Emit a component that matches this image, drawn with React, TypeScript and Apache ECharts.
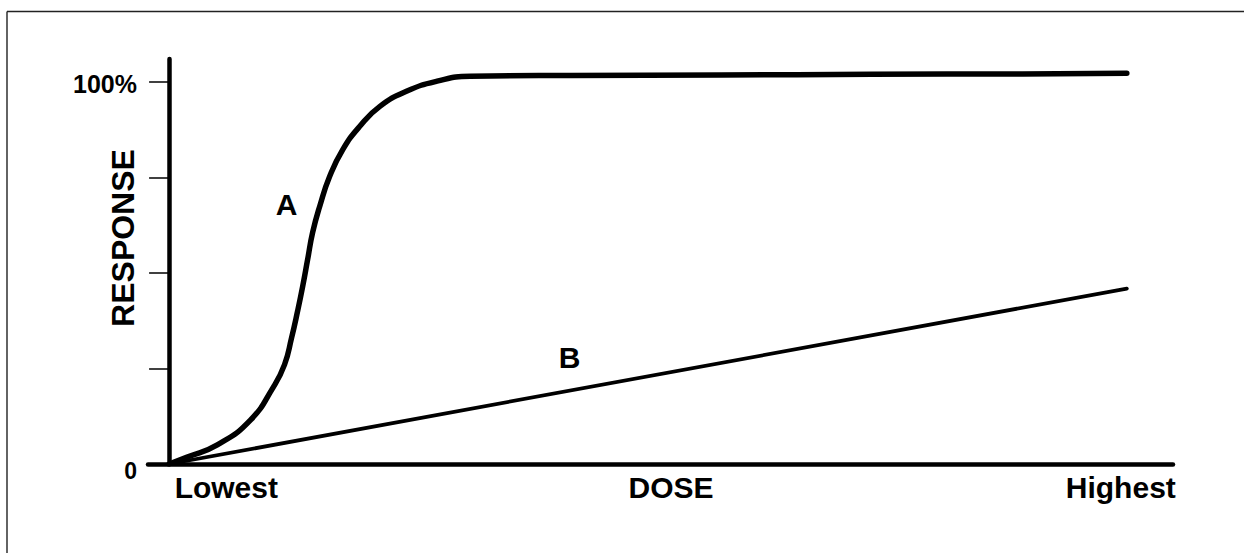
import React, { useEffect, useRef } from "react";
import * as echarts from "echarts";

// Curve A (steep sigmoid) : [dose, response %]
const curveA: [number, number][] = [
  [0, 0], [1.8, 1.8], [4.8, 5.0], [8.1, 11.5], [10.4, 20.2], [11.5, 26.0],
  [12.2, 33.0], [12.8, 40.0], [13.3, 46.4], [13.8, 53.5], [14.3, 60.6],
  [15.0, 67.4], [16.0, 75.3], [17.3, 82.3], [19.0, 88.4], [21.0, 93.6],
  [23.7, 97.6], [26.7, 100.2], [30.0, 101.5], [40, 101.7], [55, 101.8],
  [70, 102.0], [85, 102.1], [95.4, 102.3],
];
// Line B (shallow linear)
const curveB: [number, number][] = [
  [0, 0], [95.4, 45.9],
];
const curveNames = ["A", "B"];
const curveLabelPos: [number, number][] = [[11.7, 67.9], [39.9, 27.8]];

const xLabelValues = [5.7, 50, 94.8];
const xLabels = ["Lowest", "DOSE", "Highest"];
const yTickValues = [0, 25, 50, 75, 100];
const yLabelValues = [0, 100];
const yLabels = ["0", "100%"];

const FONT = "'Liberation Sans', Arial, Helvetica, sans-serif";

export default function App() {
  const ref = useRef<HTMLDivElement>(null);
  useEffect(() => {
    if (!ref.current) return;
    const chart = echarts.init(ref.current, undefined, { renderer: "svg" });
    chart.setOption({
      animation: false,
      backgroundColor: "#ffffff",
      grid: { left: 148, top: 59, width: 1025, height: 405, containLabel: false },
      xAxis: {
        type: "value",
        min: -2.1,
        max: 100,
        axisLine: { show: true, onZero: true, lineStyle: { color: "#000", width: 4.5 } },
        axisTick: { show: false },
        splitLine: { show: false },
        axisLabel: {
          customValues: xLabelValues,
          margin: 8,
          color: "#000",
          fontFamily: FONT,
          fontWeight: "bold",
          fontSize: 30,
          formatter: (v: number) => {
            const i = xLabelValues.indexOf(v);
            return i >= 0 ? xLabels[i] : "";
          },
        },
      },
      yAxis: {
        type: "value",
        min: 0,
        max: 106,
        name: "RESPONSE",
        nameLocation: "middle",
        nameRotate: 90,
        nameGap: 9,
        nameMoveOverlap: false,
        nameTextStyle: {
          color: "#000",
          fontFamily: FONT,
          fontWeight: "bold",
          fontSize: 32,
          padding: [0, 0, 0, 47],
        },
        axisLine: { show: true, onZero: true, lineStyle: { color: "#000", width: 4.5 } },
        axisTick: {
          show: true,
          customValues: yTickValues,
          length: 20,
          lineStyle: { color: "#000", width: 1.5 },
        },
        splitLine: { show: false },
        axisLabel: {
          customValues: yLabelValues,
          margin: 11,
          color: "#000",
          fontFamily: FONT,
          fontWeight: "bold",
          fontSize: 25,
          formatter: (v: number) => {
            const i = yLabelValues.indexOf(v);
            if (i < 0) return "";
            return i === 0 ? "{z|" + yLabels[i] + "}" : "{p|" + yLabels[i] + "}";
          },
          rich: {
            z: { fontSize: 23, fontWeight: "bold", fontFamily: FONT, color: "#000", padding: [14, 0, 0, 0] },
            p: { fontSize: 25, fontWeight: "bold", fontFamily: FONT, color: "#000", padding: [4, 0, 0, 0] },
          },
        },
      },
      series: [
        {
          name: "A",
          type: "line",
          data: curveA,
          smooth: 0.5,
          showSymbol: false,
          symbol: "none",
          lineStyle: { color: "#000", width: 5.5, cap: "round", join: "round" },
          z: 3,
        },
        {
          name: "B",
          type: "line",
          data: curveB,
          showSymbol: false,
          symbol: "none",
          lineStyle: { color: "#000", width: 3.8, cap: "round" },
          z: 3,
        },
        {
          name: "labels",
          type: "scatter",
          data: curveLabelPos.map((p, i) => ({ value: p, name: curveNames[i] })),
          symbolSize: 0,
          itemStyle: { color: "#fff" },
          label: {
            show: true,
            position: [0, 0],
            align: "center",
            verticalAlign: "middle",
            formatter: (p: any) => p.name,
            color: "#000",
            opacity: 1,
            fontFamily: FONT,
            fontWeight: "bold",
            fontSize: 30,
          },
          z: 4,
        },
      ],
      graphic: [
        {
          type: "line",
          shape: { x1: 7, y1: 11.5, x2: 1244, y2: 11.5 },
          style: { stroke: "#222", lineWidth: 1.4 },
        },
        {
          type: "line",
          shape: { x1: 7, y1: 11.5, x2: 7, y2: 553 },
          style: { stroke: "#222", lineWidth: 1.4 },
        },
      ],
    });
    return () => chart.dispose();
  }, []);
  return (
    <div
      ref={ref}
      style={{ position: "fixed", left: 0, top: 0, width: 1244, height: 553, background: "#fff" }}
    />
  );
}
